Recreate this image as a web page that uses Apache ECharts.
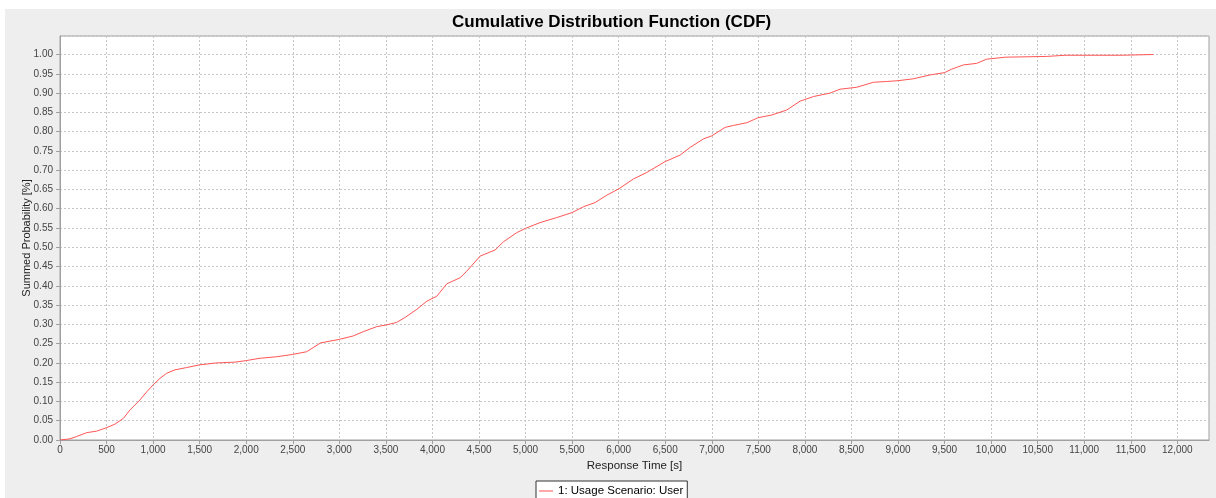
<!DOCTYPE html>
<html>
<head>
<meta charset="utf-8">
<title>Cumulative Distribution Function (CDF)</title>
<script src="https://cdn.jsdelivr.net/npm/echarts@6/dist/echarts.min.js"></script>
<style>
  html, body { margin: 0; padding: 0; background: #ffffff; }
  #panel { position: absolute; left: 5px; top: 9px; width: 1211px; height: 489px; background: #eeeeee; }
  #chart { position: absolute; left: 0; top: 0; width: 1216px; height: 498px; }
</style>
</head>
<body>
<div id="panel"></div>
<div id="chart"></div>
<script>
// Response times [s] and the summed probability reached at each of them
const responseTime = [
  0, 107, 179, 286, 394, 500, 590, 680, 752, 859, 931, 1000, 1074, 1145, 1235, 1360,
  1500, 1682, 1879, 2000, 2147, 2326, 2500, 2649, 2800, 3000, 3150, 3257, 3400, 3497,
  3615, 3700, 3832, 3939, 4047, 4154, 4297, 4369, 4512, 4673, 4762, 4906, 5000, 5156,
  5335, 5500, 5621, 5747, 5872, 6004, 6158, 6301, 6498, 6659, 6767, 6910, 7000, 7143,
  7233, 7376, 7497, 7644, 7805, 7948, 8093, 8271, 8378, 8557, 8736, 8879, 9000, 9165,
  9344, 9500, 9577, 9702, 9845, 9953, 10000, 10150, 10597, 10794, 11385, 11402, 11743
];
const summedProbability = [
  0, 0.003, 0.009, 0.019, 0.023, 0.032, 0.041, 0.056, 0.078, 0.104, 0.125, 0.143, 0.160, 0.173, 0.182, 0.188,
  0.195, 0.200, 0.202, 0.206, 0.212, 0.216, 0.222, 0.229, 0.252, 0.261, 0.270, 0.281, 0.294, 0.298,
  0.305, 0.317, 0.339, 0.360, 0.373, 0.405, 0.421, 0.438, 0.477, 0.493, 0.514, 0.538, 0.549, 0.564,
  0.577, 0.590, 0.605, 0.616, 0.635, 0.652, 0.677, 0.694, 0.722, 0.739, 0.759, 0.781, 0.789, 0.811,
  0.816, 0.823, 0.836, 0.843, 0.856, 0.879, 0.891, 0.900, 0.910, 0.915, 0.928, 0.930, 0.932, 0.937,
  0.947, 0.953, 0.962, 0.973, 0.977, 0.988, 0.989, 0.993, 0.995, 0.998, 0.998, 1.000, 1.000
];
const seriesName = '1: Usage Scenario: User';
const chartTitle = 'Cumulative Distribution Function (CDF)';
const xAxisTitle = 'Response Time [s]';
const yAxisTitle = 'Summed Probability [%]';
const xTickStep = 500;
const yTickStep = 0.05;

const points = responseTime.map((t, i) => [t, summedProbability[i]]);

const labelFont = { fontFamily: 'Liberation Sans', fontSize: 10, color: '#444444' };
const gridLine = { show: true, lineStyle: { color: '#c6c6c6', type: [2, 2], width: 1 } };
const axisLine = { show: true, lineStyle: { color: '#a0a0a0', width: 1 } };
const axisTick = { show: true, length: 4, lineStyle: { color: '#a0a0a0' } };

const chart = echarts.init(document.getElementById('chart'), null, { renderer: 'canvas' });
chart.setOption({
  backgroundColor: 'transparent',
  animation: false,
  title: {
    text: chartTitle,
    left: 452,
    top: 14,
    padding: 0,
    textStyle: { fontFamily: 'Liberation Sans', fontWeight: 'bold', fontSize: 17, color: '#000000' }
  },
  legend: {
    left: 536,
    top: 481,
    padding: [3, 4, 3, 3],
    icon: 'rect',
    itemWidth: 14,
    itemHeight: 1,
    itemGap: 4,
    backgroundColor: '#ffffff',
    borderColor: '#333333',
    borderWidth: 1,
    borderRadius: 0,
    textStyle: { fontFamily: 'Liberation Sans', fontSize: 11.5, color: '#000000', lineHeight: 14 },
    data: [seriesName]
  },
  grid: {
    left: 60,
    top: 36,
    right: 7,
    bottom: 58,
    show: true,
    backgroundColor: '#ffffff',
    borderColor: '#a0a0a0',
    borderWidth: 1
  },
  xAxis: {
    type: 'value',
    min: 0,
    max: 12340,
    interval: xTickStep,
    name: xAxisTitle,
    nameLocation: 'middle',
    nameGap: 20,
    nameMoveOverlap: false,
    nameTextStyle: { fontFamily: 'Liberation Sans', fontSize: 11.5, color: '#222222' },
    axisLine: axisLine,
    axisTick: axisTick,
    splitLine: gridLine,
    axisLabel: Object.assign({
      margin: 5,
      showMaxLabel: false,
      formatter: v => (Math.round(v) % xTickStep === 0 ? Math.round(v).toLocaleString('en-US') : '')
    }, labelFont)
  },
  yAxis: {
    type: 'value',
    min: 0,
    max: 1.048,
    interval: yTickStep,
    name: yAxisTitle,
    nameLocation: 'middle',
    nameGap: 28,
    nameMoveOverlap: false,
    nameTextStyle: { fontFamily: 'Liberation Sans', fontSize: 11, color: '#222222' },
    axisLine: axisLine,
    axisTick: axisTick,
    splitLine: gridLine,
    axisLabel: Object.assign({
      margin: 7,
      showMaxLabel: false,
      formatter: v => v.toFixed(2)
    }, labelFont)
  },
  series: [{
    name: seriesName,
    type: 'line',
    data: points,
    symbol: 'none',
    smooth: false,
    lineStyle: { color: '#ff5555', width: 1 },
    itemStyle: { color: '#ff5555' }
  }]
});
</script>
</body>
</html>
